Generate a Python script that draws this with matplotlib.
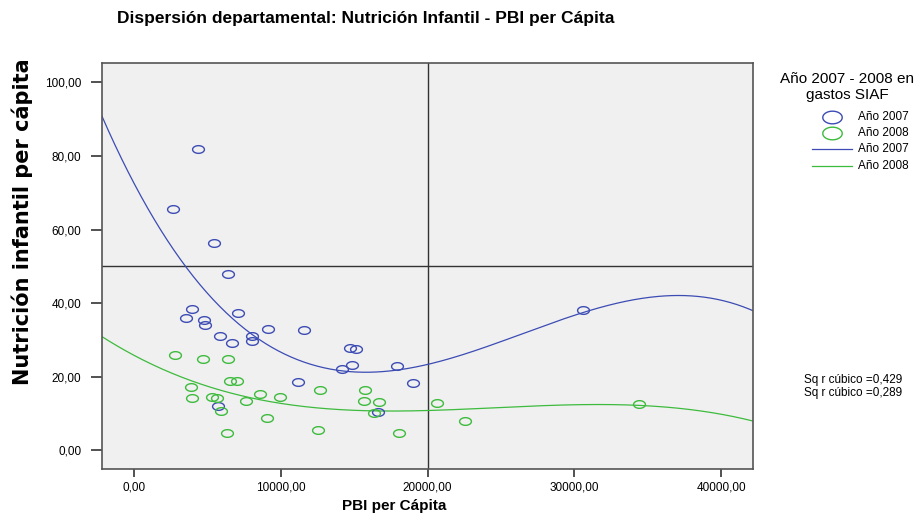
import numpy as np
import matplotlib
matplotlib.use("Agg")
import matplotlib.pyplot as plt
from matplotlib.path import Path

# Data (PBI per cápita, Nutrición infantil)
x_2007 = [4340, 2680, 5450, 6380, 3930, 3520, 4790, 4860, 7080, 5840, 6680, 8060,
          8020, 9150, 11600, 14740, 15120, 14170, 14850, 17940, 11190, 19030, 5720,
          16620, 30610]
y_2007 = [81.9, 65.6, 56.4, 47.9, 38.5, 35.9, 35.5, 34.1, 37.3, 31.0, 29.2, 31.2,
          29.6, 33.1, 32.8, 27.8, 27.5, 22.1, 23.1, 23.0, 18.5, 18.2, 12.0,
          10.4, 38.1]
x_2008 = [2770, 4720, 6380, 3880, 3970, 6560, 7000, 5310, 5680, 5900, 7650, 8580,
          9970, 9080, 6360, 12670, 12530, 15760, 15650, 16670, 16370, 18030, 20620,
          22550, 34420]
y_2008 = [25.9, 24.7, 24.7, 17.2, 14.2, 18.7, 18.7, 14.6, 14.2, 10.7, 13.4, 15.3,
          14.4, 8.8, 4.8, 16.4, 5.6, 16.5, 13.5, 13.2, 10.0, 4.6, 12.9,
          7.9, 12.6]
legend_labels = ["Año 2007", "Año 2008", "Año 2007", "Año 2008"]
r2_labels = ["Sq r cúbico =0,429", "Sq r cúbico =0,289"]
xticks = [0, 10000, 20000, 30000, 40000]
yticks = [0, 20, 40, 60, 80, 100]

blue = '#3C4CB4'
green = '#3DBB3D'

plt.rcParams['font.family'] = ['Liberation Sans', 'DejaVu Sans']

W, H = 921, 520
fig = plt.figure(figsize=(W/100, H/100), dpi=100)

def fx(px):
    return px / W

def fy(py):
    return 1 - py / H

ax = fig.add_axes([fx(102), fy(469), (753-102)/W, (469-63)/H])
ax.set_facecolor('#F0F0F0')
ax.set_xlim(-2180, 42170)
ax.set_ylim(-5.1, 105.3)

# ellipse marker
t = np.linspace(0, 2*np.pi, 60)
ell = Path(np.column_stack([np.cos(t), 0.65*np.sin(t)]), closed=True)

ax.axvline(20000, color='#333333', lw=1.0, zorder=1)
ax.axhline(50, color='#333333', lw=1.0, zorder=1)

xx = np.linspace(-2180, 42170, 400)
for xs, ys, c in [(x_2007, y_2007, blue), (x_2008, y_2008, green)]:
    coef = np.polyfit(xs, ys, 3)
    ax.plot(xx, np.polyval(coef, xx), color=c, lw=0.9, zorder=2)
    ax.plot(xs, ys, linestyle='none', marker=ell, markersize=8.5,
            markerfacecolor='none', markeredgecolor=c, markeredgewidth=1.0, zorder=3)

ax.set_xticks(xticks)
ax.set_xticklabels([f"{v:.2f}".replace('.', ',') for v in xticks], fontsize=8.5)
ax.set_yticks(yticks)
ax.set_yticklabels([f"{v:.2f}".replace('.', ',') for v in yticks], fontsize=8.5)
ax.tick_params(axis='x', direction='out', length=6, width=1.2, color='#333333', pad=3)
ax.tick_params(axis='y', direction='out', length=8, width=1.2, color='#333333', pad=7)
for s in ax.spines.values():
    s.set_color('#555555')
    s.set_linewidth(1.2)

fig.text(fx(394), fy(506), "PBI per Cápita", fontsize=11, fontweight='bold',
         ha='center', va='center')
fig.text(fx(22), fy(222), "Nutrición infantil per cápita", fontsize=15, fontweight='bold',
         family='DejaVu Sans', rotation=90, ha='center', va='center')

fig.text(fx(117), fy(18), "Dispersión departamental: Nutrición Infantil - PBI per Cápita",
         fontsize=12.5, fontweight='bold', ha='left', va='center')

# legend (manual, in pixel space)
lax = fig.add_axes([0, 0, 1, 1], facecolor='none')
lax.set_xlim(0, W)
lax.set_ylim(H, 0)
lax.axis('off')
lax.text(847, 87, "Año 2007 - 2008 en\ngastos SIAF", fontsize=11, ha='center',
         va='center', multialignment='center', linespacing=1.15)
rows = [117, 133, 149, 166]
lax.plot([832], [rows[0]], linestyle='none', marker=ell, markersize=14,
         markerfacecolor='none', markeredgecolor=blue, markeredgewidth=1.0)
lax.plot([832], [rows[1]], linestyle='none', marker=ell, markersize=14,
         markerfacecolor='none', markeredgecolor=green, markeredgewidth=1.0)
lax.plot([812, 852], [rows[2], rows[2]], color=blue, lw=0.9)
lax.plot([812, 852], [rows[3], rows[3]], color=green, lw=0.9)
for r, lab in zip(rows, legend_labels):
    lax.text(858, r, lab, fontsize=8.5, ha='left', va='center')

lax.text(804, 380, r2_labels[0], fontsize=8.5, ha='left', va='center')
lax.text(804, 393, r2_labels[1], fontsize=8.5, ha='left', va='center')

fig.savefig("out.png", dpi=100)
